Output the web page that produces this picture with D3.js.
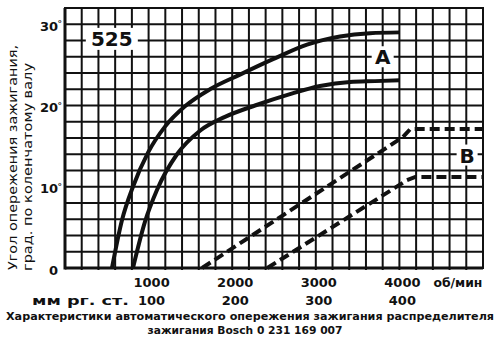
<html>
<head>
<meta charset="utf-8">
<script src="https://cdn.jsdelivr.net/npm/d3@7/dist/d3.min.js"></script>
<style>
body { margin: 0; background: #fff; }
svg text { font-family: "DejaVu Sans", sans-serif; fill: #111; }
.grid line { stroke: #111; stroke-width: 2; }
</style>
</head>
<body>
<svg width="500" height="340"></svg>
<script>

// values
var rpmTicks = [1000, 2000, 3000, 4000];
var rpmLabels = ["1000", "2000", "3000", "4000"];
var vacLabels = ["100", "200", "300", "400"];
var degTicks = [0, 10, 20, 30];
var degLabels = ["0", "10", "20", "30"];

// curve A (solid), upper and lower limits
var a1Rpm = [562, 682, 813, 993, 1196, 1435, 1734, 2093, 2488, 2895, 3289, 3648, 4007];
var a1Deg = [0, 5.9, 10, 14.2, 17.4, 19.9, 22, 23.8, 25.7, 27.5, 28.5, 28.9, 29];
var a2Rpm = [813, 957, 1100, 1340, 1615, 1914, 2273, 2691, 3050, 3409, 3708, 4007];
var a2Deg = [0, 5.7, 9.6, 14, 16.9, 18.6, 20, 21.4, 22.4, 22.9, 23, 23.1];

// curve B (dashed), upper and lower limits
var b1Rpm = [1640, 4040, 4130, 5000];
var b1Deg = [0, 16.1, 17.1, 17.1];
var b2Rpm = [2420, 4090, 4190, 5000];
var b2Deg = [0, 10.8, 11.2, 11.2];

var svg = d3.select("svg");

var x = d3.scaleLinear().domain([0, 5000]).range([65, 483]);
var y = d3.scaleLinear().domain([0, 32]).range([268, 8]);

// grid: 200 rpm by 2 degrees
var grid = svg.append("g").attr("class", "grid");
grid.selectAll("line.v").data(d3.range(200, 5000, 200)).enter().append("line")
	.attr("class", "v")
	.attr("x1", function (d) { return x(d); })
	.attr("x2", function (d) { return x(d); })
	.attr("y1", y(32)).attr("y2", y(0) + 2);
grid.selectAll("line.h").data(d3.range(2, 32, 2)).enter().append("line")
	.attr("class", "h")
	.attr("x1", x(0)).attr("x2", x(5000))
	.attr("y1", function (d) { return y(d); })
	.attr("y2", function (d) { return y(d); });

// frame
svg.append("rect")
	.attr("x", x(0)).attr("y", y(32))
	.attr("width", x(5000) - x(0)).attr("height", y(0) - y(32))
	.style("fill", "none").style("stroke", "#111").style("stroke-width", 2);
svg.append("line").attr("x1", x(0)).attr("x2", x(0)).attr("y1", y(32)).attr("y2", y(0) + 1.5)
	.style("stroke", "#111").style("stroke-width", 3);
svg.append("line").attr("x1", x(0)).attr("x2", x(5000)).attr("y1", y(0)).attr("y2", y(0))
	.style("stroke", "#111").style("stroke-width", 3);

// white patches behind labels inside the grid
function patch(cx, cy, w, h) {
	svg.append("rect").attr("x", cx - w / 2).attr("y", cy - h / 2)
		.attr("width", w).attr("height", h).style("fill", "#fff");
}
patch(x(560), y(28.2), 52, 22);
patch(x(3800), y(26), 22, 21);
patch(x(4810), y(13.9), 21, 21);

svg.append("text").attr("x", x(560)).attr("y", y(28.2) + 7.5)
	.attr("text-anchor", "middle").style("font-weight", "bold").style("font-size", "20px")
	.text("525");
svg.append("text").attr("x", x(3800)).attr("y", y(26) + 7.5)
	.attr("text-anchor", "middle").style("font-weight", "bold").style("font-size", "20px")
	.text("A");
svg.append("text").attr("x", x(4810)).attr("y", y(13.9) + 7.5)
	.attr("text-anchor", "middle").style("font-weight", "bold").style("font-size", "20px")
	.text("B");

// curves
var line = d3.line()
	.x(function (d) { return x(d[0]); })
	.y(function (d) { return y(d[1]); })
	.curve(d3.curveMonotoneX);
var sharp = d3.line()
	.x(function (d) { return x(d[0]); })
	.y(function (d) { return y(d[1]); });

function draw(rpm, deg, gen, dashed) {
	svg.append("path")
		.datum(d3.zip(rpm, deg))
		.attr("d", gen)
		.style("fill", "none")
		.style("stroke", "#111")
		.style("stroke-width", 4)
		.style("stroke-dasharray", dashed ? "10,5" : null);
}
draw(a1Rpm, a1Deg, line, false);
draw(a2Rpm, a2Deg, line, false);
draw(b1Rpm, b1Deg, sharp, true);
draw(b2Rpm, b2Deg, sharp, true);

// y axis labels
var yl = svg.append("g").style("font-weight", "bold").style("font-size", "13px");
yl.selectAll("text.n").data(degTicks).enter().append("text")
	.attr("class", "n")
	.attr("x", 58)
	.attr("y", function (d) { return y(d) + 6.5; })
	.attr("text-anchor", "end")
	.text(function (d, i) { return degLabels[i]; });
yl.selectAll("text.o").data(degTicks.slice(1)).enter().append("text")
	.attr("class", "o")
	.attr("x", 57.5)
	.attr("y", function (d) { return y(d) + 3; })
	.style("font-size", "9px")
	.text("°");

// x axis labels
var xl = svg.append("g").style("font-weight", "bold").style("font-size", "13px");
xl.selectAll("text.r").data(rpmTicks).enter().append("text")
	.attr("class", "r")
	.attr("x", function (d) { return x(d) + 3; })
	.attr("y", 287)
	.attr("text-anchor", "middle")
	.text(function (d, i) { return rpmLabels[i]; });
xl.selectAll("text.p").data(rpmTicks).enter().append("text")
	.attr("class", "p")
	.attr("x", function (d) { return x(d) + 3; })
	.attr("y", 305)
	.attr("text-anchor", "middle")
	.text(function (d, i) { return vacLabels[i]; });
xl.append("text").attr("x", x(4000) + 34).attr("y", 287)
	.attr("textLength", 49).attr("lengthAdjust", "spacingAndGlyphs")
	.text("об/мин");
xl.append("text").attr("x", 32).attr("y", 305)
	.attr("textLength", 97).attr("lengthAdjust", "spacingAndGlyphs")
	.text("мм рг. ст.");

// y axis title
svg.append("text")
	.attr("transform", "translate(17,270) rotate(-90)")
	.attr("textLength", 225).attr("lengthAdjust", "spacingAndGlyphs")
	.style("font-size", "12px")
	.text("Угол опережения зажигания,");
svg.append("text")
	.attr("transform", "translate(32,271) rotate(-90)")
	.attr("textLength", 208).attr("lengthAdjust", "spacingAndGlyphs")
	.style("font-size", "12px")
	.text("град. по коленчатому валу");

// caption
svg.append("text").attr("x", 250).attr("y", 320)
	.attr("text-anchor", "middle")
	.attr("textLength", 488).attr("lengthAdjust", "spacingAndGlyphs")
	.style("font-weight", "bold").style("font-size", "10.6px")
	.text("Характеристики автоматического опережения зажигания распределителя");
svg.append("text").attr("x", 245).attr("y", 334)
	.attr("text-anchor", "middle")
	.attr("textLength", 195).attr("lengthAdjust", "spacingAndGlyphs")
	.style("font-weight", "bold").style("font-size", "11px")
	.text("зажигания Bosch 0 231 169 007");

</script>
</body>
</html>
